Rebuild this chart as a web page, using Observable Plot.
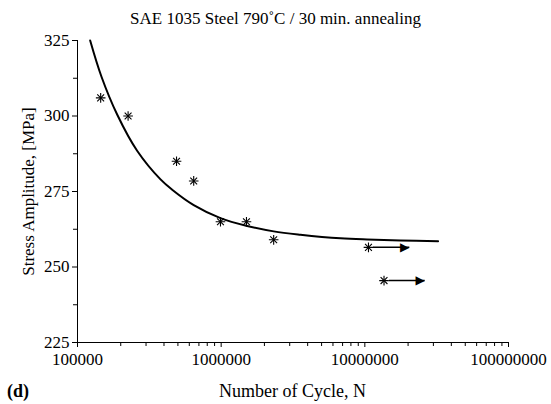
<!DOCTYPE html>
<html>
<head>
<meta charset="utf-8">
<script src="https://cdn.jsdelivr.net/npm/d3@7"></script>
<script src="https://cdn.jsdelivr.net/npm/@observablehq/plot@0.6"></script>
<style>
  html, body { margin: 0; padding: 0; background: #fff; width: 551px; height: 404px; overflow: hidden; }
  #title { height: 28px; width: 551px; text-align: center; font: 17px "Liberation Serif", serif; line-height: 38px; color: #000; white-space: nowrap; }
  #caption { position: relative; height: 29px; width: 551px; font: 18px "Liberation Serif", serif; color: #000; }
  #caption span { position: absolute; top: 6px; white-space: nowrap; }
</style>
</head>
<body>
<div id="title">SAE 1035 Steel 790˚C / 30 min. annealing</div>
<div id="chart"></div>
<div id="caption"><span style="left:7px;font-weight:bold;">(d)</span><span style="left:77px;width:431px;text-align:center;">Number of Cycle, N</span></div>
<script>
// Experimental points
const cycles = [145000, 225000, 489000, 644000, 989000, 1500000, 2320000, 10600000, 13600000];
const stress = [306, 300, 285, 278.5, 265, 265, 259, 256.5, 245.5];
// Fitted curve
const fitCycles = [122500, 146900, 188800, 260000, 378400, 456000, 644200, 988600, 1517000, 2323000, 3565000, 6761000, 10375000, 17700000, 32360000];
const fitStress = [325, 313, 300.5, 288.5, 279, 275.6, 270.5, 266.2, 263.6, 261.8, 260.7, 259.5, 259.1, 258.8, 258.5];
// Run-out arrows
const runoutStart = [11400000, 14700000];
const runoutEnd = [20400000, 26100000];
const runoutStress = [256.5, 245.5];
// Ticks
const xTicks = [1e5, 1e6, 1e7, 1e8];
const xMinor = [2e5,3e5,4e5,5e5,6e5,7e5,8e5,9e5,2e6,3e6,4e6,5e6,6e6,7e6,8e6,9e6,2e7,3e7,4e7,5e7,6e7,7e7,8e7,9e7];
const yTicks = [225, 250, 275, 300, 325];
const yMinor = [237.5, 262.5, 287.5, 312.5];

const points = cycles.map((c, i) => ({N: c, S: stress[i]}));
const fit = fitCycles.map((c, i) => ({N: c, S: fitStress[i]}));
const runouts = runoutStart.map((s, i) => ({x1: s, x2: runoutEnd[i], S: runoutStress[i]}));

const serif = "'Liberation Serif', 'Times New Roman', serif";

const svg = Plot.plot({
  width: 551,
  height: 347,
  marginTop: 12,
  marginBottom: 33,
  marginLeft: 77,
  marginRight: 43,
  style: {fontFamily: serif, fontSize: "17px", background: "white", color: "black"},
  x: {type: "log", domain: [1e5, 1e8]},
  y: {domain: [225, 325]},
  marks: [
    Plot.axisX(xTicks, {tickSize: 5, tickPadding: 5, tickFormat: d3.format("d"), label: null, fontSize: 17, fontFamily: serif, stroke: "black", strokeWidth: 1}),
    Plot.axisX(xMinor, {tickSize: 4, tickFormat: () => "", label: null, stroke: "black", strokeWidth: 1}),
    Plot.axisY(yTicks, {tickSize: 5, tickPadding: 3, fontSize: 17, fontFamily: serif, stroke: "black", strokeWidth: 1, label: "Stress Amplitude, [MPa]", labelAnchor: "center", labelArrow: "none", labelOffset: 56}),
    Plot.axisY(yMinor, {tickSize: 4, tickFormat: () => "", label: null, stroke: "black", strokeWidth: 1}),
    Plot.ruleY([225], {stroke: "black", strokeWidth: 1}),
    Plot.ruleX([1e5], {stroke: "black", strokeWidth: 1}),
    Plot.line(fit, {x: "N", y: "S", curve: "catmull-rom", stroke: "black", strokeWidth: 2}),
    Plot.link(runouts, {x1: "x1", x2: "x2", y1: "S", y2: "S", stroke: "black", strokeWidth: 1.5}),
    Plot.text(runouts, {x: "x2", y: "S", text: () => "▶", textAnchor: "end", fontSize: 12, fontFamily: "DejaVu Sans", fill: "black"}),
    Plot.dot(points, {x: "N", y: "S", symbol: "plus", r: 3.2, stroke: "black", strokeWidth: 1.1}),
    Plot.dot(points, {x: "N", y: "S", symbol: "times", r: 3.2, stroke: "black", strokeWidth: 1.1})
  ]
});
document.getElementById("chart").appendChild(svg);
</script>
</body>
</html>
